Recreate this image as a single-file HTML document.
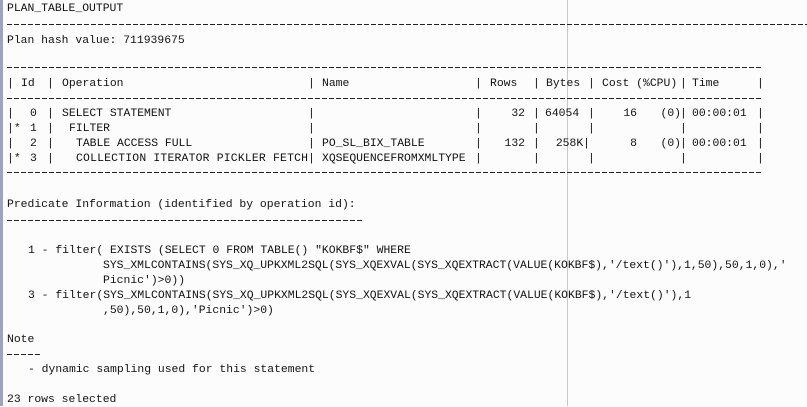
<!DOCTYPE html>
<html><head><meta charset="utf-8"><style>
html,body{margin:0;padding:0}
body{width:807px;height:406px;overflow:hidden;background:#fbfcfb;position:relative;font-family:"Liberation Mono","DejaVu Sans Mono",monospace;font-size:11.4px;color:#111}
.t{position:absolute;white-space:pre;line-height:14px;transform:translateY(-6px)}
.r{position:absolute;white-space:pre;line-height:14px;transform:translate(-100%,-6px)}
.d{position:absolute;height:1px;background:repeating-linear-gradient(90deg,#222 0 5px,transparent 5px 7px)}
</style></head><body>
<div style="position:absolute;left:0;top:0;width:3px;height:406px;background:#9da3c0"></div>
<div style="position:absolute;left:567px;top:0;width:1px;height:406px;background:#c8c8c8"></div>

<div class="t" style="left:7px;top:8px">PLAN_TABLE_OUTPUT</div>
<div class="d" style="left:7px;top:24px;width:800px"></div>
<div class="t" style="left:7px;top:40px">Plan hash value: 711939675</div>
<div class="d" style="left:7px;top:67px;width:755px"></div>

<div class="t" style="left:7px;top:83px">|</div>
<div class="t" style="left:21px;top:83px">Id</div>
<div class="t" style="left:47px;top:83px">|</div>
<div class="t" style="left:62px;top:83px">Operation</div>
<div class="t" style="left:308px;top:83px">|</div>
<div class="t" style="left:322px;top:83px">Name</div>
<div class="t" style="left:475px;top:83px">|</div>
<div class="t" style="left:490px;top:83px">Rows</div>
<div class="t" style="left:533px;top:83px">|</div>
<div class="t" style="left:546px;top:83px">Bytes</div>
<div class="t" style="left:588px;top:83px">|</div>
<div class="t" style="left:602px;top:83px">Cost (%CPU)</div>
<div class="t" style="left:680px;top:83px">|</div>
<div class="t" style="left:692px;top:83px">Time</div>
<div class="t" style="left:757px;top:83px">|</div>
<div class="d" style="left:7px;top:98px;width:755px"></div>

<div class="t" style="left:7px;top:113px">|</div>
<div class="t" style="left:30px;top:113px">0</div>
<div class="t" style="left:47px;top:113px">|</div>
<div class="t" style="left:62px;top:113px">SELECT STATEMENT</div>
<div class="t" style="left:308px;top:113px">|</div>
<div class="t" style="left:475px;top:113px">|</div>
<div class="r" style="left:525px;top:113px">32</div>
<div class="t" style="left:533px;top:113px">|</div>
<div class="t" style="left:545px;top:113px">64054</div>
<div class="t" style="left:588px;top:113px">|</div>
<div class="r" style="left:637px;top:113px">16</div>
<div class="r" style="left:681px;top:113px">(0)</div>
<div class="t" style="left:680px;top:113px">|</div>
<div class="t" style="left:692px;top:113px">00:00:01</div>
<div class="t" style="left:757px;top:113px">|</div>

<div class="t" style="left:7px;top:128px">|*</div>
<div class="t" style="left:30px;top:128px">1</div>
<div class="t" style="left:47px;top:128px">|</div>
<div class="t" style="left:69px;top:128px">FILTER</div>
<div class="t" style="left:308px;top:128px">|</div>
<div class="t" style="left:475px;top:128px">|</div>
<div class="t" style="left:533px;top:128px">|</div>
<div class="t" style="left:588px;top:128px">|</div>
<div class="t" style="left:680px;top:128px">|</div>
<div class="t" style="left:757px;top:128px">|</div>

<div class="t" style="left:7px;top:143px">|</div>
<div class="t" style="left:30px;top:143px">2</div>
<div class="t" style="left:47px;top:143px">|</div>
<div class="t" style="left:76px;top:143px">TABLE ACCESS FULL</div>
<div class="t" style="left:308px;top:143px">|</div>
<div class="t" style="left:322px;top:143px">PO_SL_BIX_TABLE</div>
<div class="t" style="left:475px;top:143px">|</div>
<div class="r" style="left:525px;top:143px">132</div>
<div class="t" style="left:533px;top:143px">|</div>
<div class="r" style="left:590px;top:143px">258K|</div>
<div class="r" style="left:637px;top:143px">8</div>
<div class="r" style="left:681px;top:143px">(0)</div>
<div class="t" style="left:680px;top:143px">|</div>
<div class="t" style="left:692px;top:143px">00:00:01</div>
<div class="t" style="left:757px;top:143px">|</div>

<div class="t" style="left:7px;top:158px">|*</div>
<div class="t" style="left:30px;top:158px">3</div>
<div class="t" style="left:47px;top:158px">|</div>
<div class="t" style="left:76px;top:158px;letter-spacing:0.2px">COLLECTION ITERATOR PICKLER FETCH|</div>
<div class="t" style="left:322px;top:158px">XQSEQUENCEFROMXMLTYPE</div>
<div class="t" style="left:475px;top:158px">|</div>
<div class="t" style="left:533px;top:158px">|</div>
<div class="t" style="left:588px;top:158px">|</div>
<div class="t" style="left:680px;top:158px">|</div>
<div class="t" style="left:757px;top:158px">|</div>
<div class="d" style="left:7px;top:172px;width:755px"></div>

<div class="t" style="left:7px;top:204px">Predicate Information (identified by operation id):</div>
<div class="d" style="left:7px;top:220px;width:356px"></div>
<div class="t" style="left:28px;top:250px">1 - filter( EXISTS (SELECT 0 FROM TABLE() "KOKBF$" WHERE</div>
<div class="t" style="left:103px;top:265px">SYS_XMLCONTAINS(SYS_XQ_UPKXML2SQL(SYS_XQEXVAL(SYS_XQEXTRACT(VALUE(KOKBF$),'/text()'),1,50),50,1,0),'</div>
<div class="t" style="left:103px;top:280px">Picnic')&gt;0))</div>
<div class="t" style="left:28px;top:295px">3 - filter(SYS_XMLCONTAINS(SYS_XQ_UPKXML2SQL(SYS_XQEXVAL(SYS_XQEXTRACT(VALUE(KOKBF$),'/text()'),1</div>
<div class="t" style="left:103px;top:310px">,50),50,1,0),'Picnic')&gt;0)</div>

<div class="t" style="left:7px;top:339px">Note</div>
<div class="d" style="left:7px;top:354px;width:35px"></div>
<div class="t" style="left:28px;top:369px">- dynamic sampling used for this statement</div>
<div class="t" style="left:7px;top:399px">23 rows selected</div>
</body></html>
